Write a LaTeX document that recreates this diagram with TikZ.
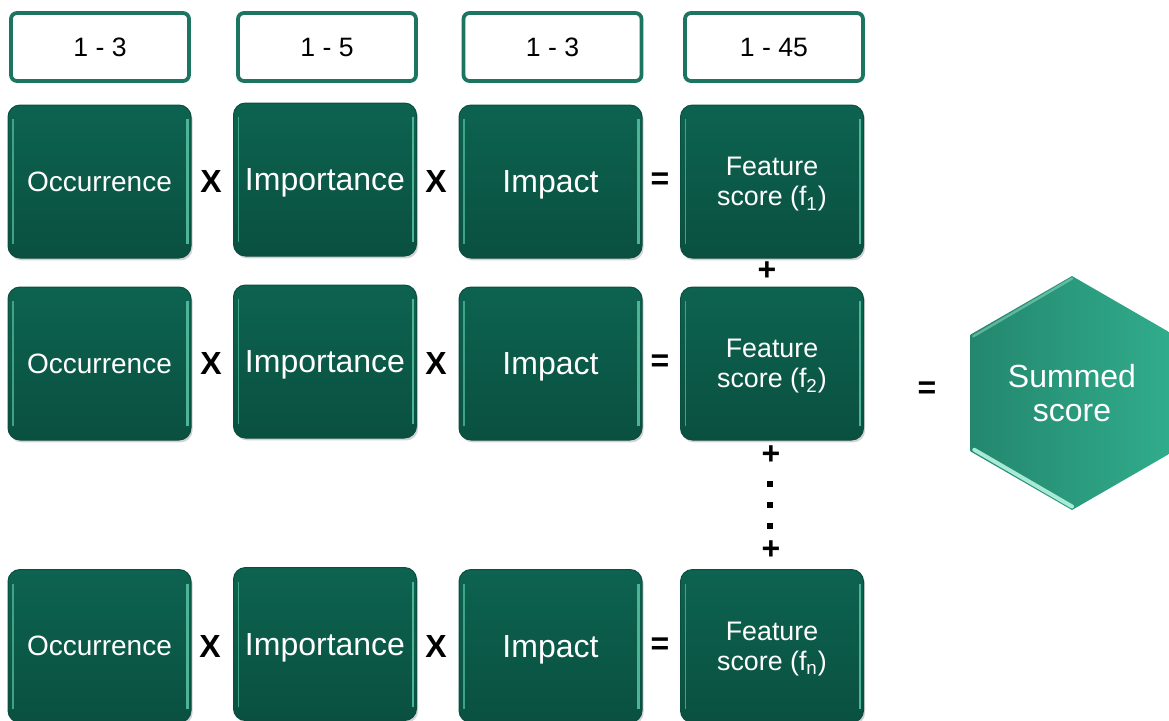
\documentclass[tikz,border=0pt]{standalone}
\usepackage{fontspec}
\setmainfont{Liberation Sans}
\usetikzlibrary{shapes.geometric,shadows}
\definecolor{gtop}{HTML}{0D6350}
\definecolor{gbot}{HTML}{0A5040}
\definecolor{gedge}{HTML}{0B4E3F}
\definecolor{ghl}{HTML}{4DB596}
\definecolor{redge}{HTML}{1C7560}
\definecolor{hexl}{HTML}{23876E}
\definecolor{hexr}{HTML}{31AD8C}
\definecolor{hexhl}{HTML}{A8EAD6}
\begin{document}
\begin{tikzpicture}[x=0.5pt,y=-0.5pt,
  gbox/.style={draw=gedge, line width=0.5pt, rounded corners=6pt,
    minimum width=91.5pt, minimum height=76.5pt, top color=gtop, bottom color=gbot,
    text=white, align=center, inner sep=0pt, text depth=0pt,
    drop shadow={opacity=0.35, shadow xshift=0.8pt, shadow yshift=-1.2pt},
    path picture={
      \draw[ghl, line width=0.8pt, opacity=0.8] ([xshift=2.5pt,yshift=-7pt]path picture bounding box.north west) -- ([xshift=2.5pt,yshift=7pt]path picture bounding box.south west);
      \draw[ghl, line width=1.4pt] ([xshift=-1.8pt,yshift=-7pt]path picture bounding box.north east) -- ([xshift=-1.8pt,yshift=7pt]path picture bounding box.south east);
    }},
  rbox/.style={draw=redge, line width=1.9pt, rounded corners=3pt, fill=white,
    minimum width=89pt, minimum height=34pt, inner sep=0pt,
    font=\fontsize{13.3}{15}\selectfont},
  op/.style={font=\bfseries\fontsize{16}{18}\selectfont, inner sep=0pt},
  dotsq/.style={fill=black, minimum size=3.3pt, inner sep=0pt},
  small/.style={font=\fontsize{14}{16}\selectfont},
  big/.style={font=\fontsize{16}{18}\selectfont},
  feat/.style={font=\fontsize{13.4}{15}\selectfont}
]
\useasboundingbox (0,0) rectangle (1169,720);

% range boxes
\node[rbox] (r1) at (100,47) {1 - 3};
\node[rbox] (r2) at (327,47) {1 - 5};
\node[rbox] (r3) at (552.5,47) {1 - 3};
\node[rbox] (r4) at (774,47) {1 - 45};

% row 1
\node[gbox,small] (a1) at (99.5,181.5) {Occurrence};
\node[gbox,big] (b1) at (325,179.5) {Importance};
\node[gbox,big] (c1) at (550.5,181.5) {Impact};
\node[gbox,feat] (d1) at (772,181.5) {Feature\\score (f\textsubscript{1})};
% row 2
\node[gbox,small] (a2) at (99.5,363.5) {Occurrence};
\node[gbox,big] (b2) at (325,361.5) {Importance};
\node[gbox,big] (c2) at (550.5,363.5) {Impact};
\node[gbox,feat] (d2) at (772,363.5) {Feature\\score (f\textsubscript{2})};
% row 3
\node[gbox,small] (a3) at (99.5,646) {Occurrence};
\node[gbox,big] (b3) at (325,644) {Importance};
\node[gbox,big] (c3) at (550.5,646) {Impact};
\node[gbox,feat] (d3) at (772,646) {Feature\\score (f\textsubscript{n})};

% operators
\node[op] (x11) at (211,181) {X};
\node[op] (x12) at (436,181) {X};
\node[op] (e1) at (660,181) {=};
\node[op] (x21) at (211,363) {X};
\node[op] (x22) at (436,363) {X};
\node[op] (e2) at (660,363) {=};
\node[op] (x31) at (210,646) {X};
\node[op] (x32) at (436,646) {X};
\node[op] (e3) at (660,646) {=};

\node[op] (p1) at (767,271) {+};
\node[op] (p2) at (771,455) {+};
\node[dotsq] (dt1) at (770,484) {};
\node[dotsq] (dt2) at (770,505) {};
\node[dotsq] (dt3) at (770,526) {};
\node[op] (p3) at (771,550) {+};
\node[op] (e4) at (927,390) {=};

% hexagon
\node[regular polygon, regular polygon sides=6, shape border rotate=90,
  minimum size=117pt, inner sep=0pt, left color=hexl, right color=hexr,
  text=white, align=center, font=\fontsize{16}{17}\selectfont] (hex) at (1072,393) {Summed\\score};
\draw[hexhl, line width=1.2pt, opacity=0.45, line cap=round] ([xshift=1.5pt,yshift=-1pt]hex.150) -- ([yshift=-1.5pt]hex.90);
\draw[hexhl, line width=2pt, line cap=round] ([xshift=2pt,yshift=1pt]hex.210) -- ([yshift=2pt]hex.270);
\end{tikzpicture}
\end{document}
